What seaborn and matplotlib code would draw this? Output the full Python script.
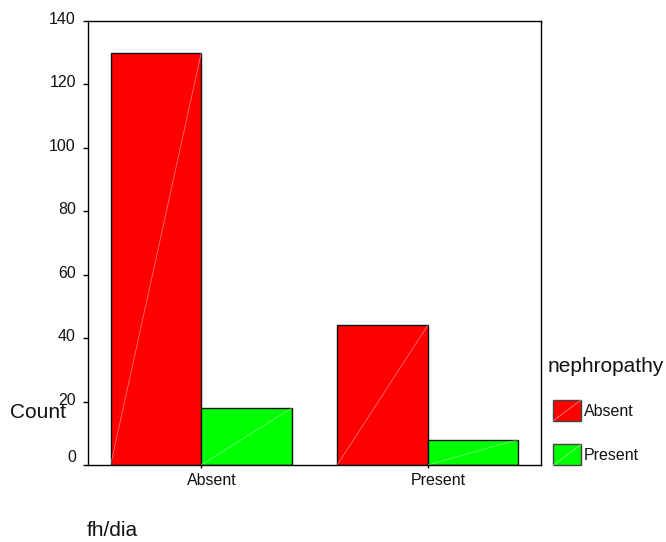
import matplotlib
matplotlib.use("Agg")
import matplotlib.pyplot as plt
import matplotlib.transforms as mtransforms
import seaborn as sns
import pandas as pd
from matplotlib.legend_handler import HandlerPatch
from matplotlib.patches import Rectangle
from matplotlib.lines import Line2D

# data
fh_dia = ["Absent", "Absent", "Present", "Present"]
nephropathy = ["Absent", "Present", "Absent", "Present"]
counts = [130, 18, 44, 8]
categories = ["Absent", "Present"]
hue_order = ["Absent", "Present"]
yticks = [0, 20, 40, 60, 80, 100, 120, 140]

df = pd.DataFrame({"fh/dia": fh_dia, "nephropathy": nephropathy, "Count": counts})

sns.set_theme(style="white")
plt.rcParams["font.family"] = ["Liberation Sans", "DejaVu Sans"]

fig = plt.figure(figsize=(6.66, 5.42), dpi=100)
ax = fig.add_axes([88 / 666, 1 - 465 / 542, 453 / 666, 444 / 542])

palette = {"Absent": "#FF0000", "Present": "#00FF00"}
sns.barplot(data=df, x="fh/dia", y="Count", hue="nephropathy", hue_order=hue_order,
            order=categories, palette=palette, width=0.8, dodge=True,
            edgecolor="#111111", linewidth=1.0, saturation=1, ax=ax, legend=False)

# faint diagonal lines inside bars (as in original rendering)
for p in ax.patches:
    x0, y0, w, h = p.get_x(), p.get_y(), p.get_width(), p.get_height()
    ax.plot([x0, x0 + w], [y0, y0 + h], color="white", lw=0.6, alpha=0.45,
            zorder=p.get_zorder() + 0.1)

ax.set_xlim(-0.5, 1.5)
ax.set_ylim(0, 140)
ax.set_yticks(yticks)
ax.set_yticklabels([str(v) for v in yticks])
ax.set_xlabel("")
ax.set_ylabel("")
for s in ax.spines.values():
    s.set_visible(True)
    s.set_color("black")
    s.set_linewidth(1.0)

ax.tick_params(axis="y", left=True, length=3.6, width=1, color="black", pad=5.2,
               labelsize=11.5, labelcolor="#111111")
ax.tick_params(axis="x", bottom=True, length=2, width=1, color="black", pad=4,
               labelsize=11.5, labelcolor="#111111")
ax.grid(False)

# y tick labels sit slightly above their ticks
for lab in ax.get_yticklabels():
    up = 9 if lab.get_text() == "0" else 3
    lab.set_transform(lab.get_transform() +
                      mtransforms.ScaledTranslation(0, up / 100, fig.dpi_scale_trans))
# x tick labels sit slightly right of the tick
for lab in ax.get_xticklabels():
    lab.set_transform(lab.get_transform() +
                      mtransforms.ScaledTranslation(11 / 100, 0, fig.dpi_scale_trans))

fig.text(10 / 666, 1 - 413 / 542, "Count", fontsize=15, va="center", ha="left", color="#111111")
fig.text(87 / 666, 1 - 530 / 542, "fh/dia", fontsize=15, va="center", ha="left", color="#111111")
fig.text(548 / 666, 1 - 366 / 542, "nephropathy", fontsize=15, va="center", ha="left", color="#111111")


class DiagHandler(HandlerPatch):
    def create_artists(self, legend, orig_handle, xdescent, ydescent, width, height, fontsize, trans):
        r = Rectangle((-xdescent, -ydescent), width, height, facecolor=orig_handle.get_facecolor(),
                      edgecolor="#444444", lw=1.0, transform=trans)
        l = Line2D([-xdescent, -xdescent + width], [-ydescent, -ydescent + height],
                   color="white", lw=0.6, alpha=0.5, transform=trans)
        return [r, l]


handles = [Rectangle((0, 0), 1, 1, facecolor=palette[h]) for h in hue_order]
leg = fig.legend(handles, hue_order, loc="upper left",
                 bbox_to_anchor=(553 / 666, 1 - 400 / 542), frameon=False, fontsize=11.5,
                 handlelength=1.75, handleheight=1.646, labelspacing=1.47,
                 handletextpad=0.2, borderpad=0, borderaxespad=0,
                 handler_map={Rectangle: DiagHandler()})
for t in leg.get_texts():
    t.set_color("#111111")

fig.savefig("out.png", dpi=100)
